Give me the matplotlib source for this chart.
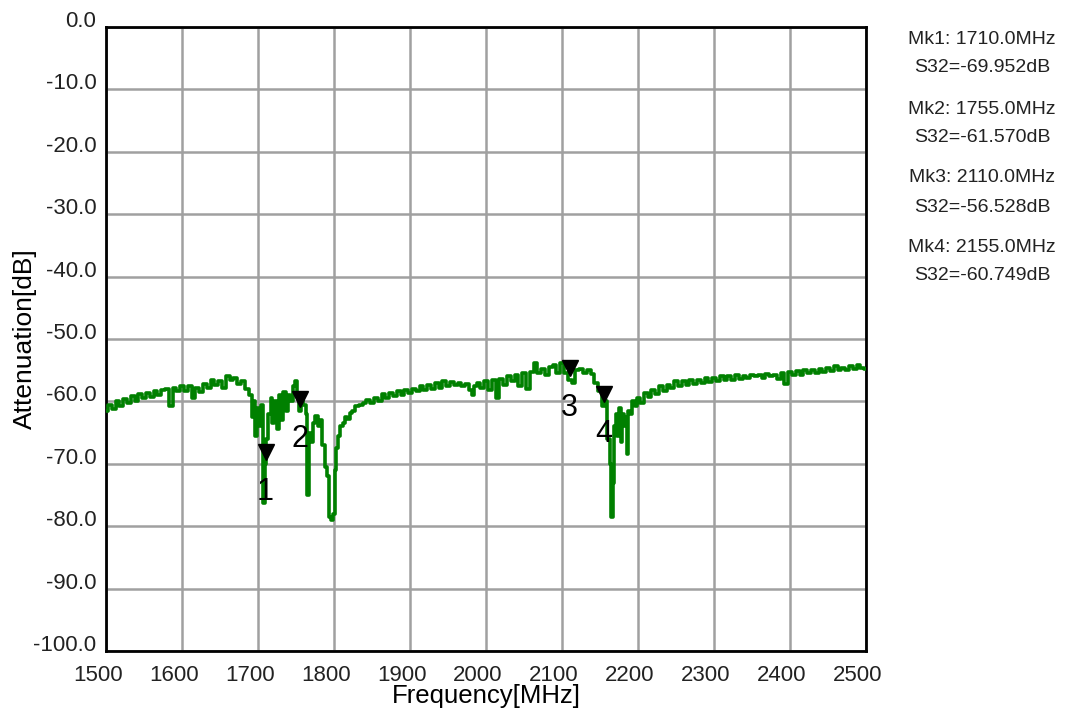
import matplotlib
matplotlib.use("Agg")
import matplotlib.pyplot as plt
import matplotlib.transforms as mtransforms

plt.rcParams['font.family'] = ['Liberation Sans', 'DejaVu Sans']

freq = [1500, 1505, 1510, 1515, 1520, 1525, 1530, 1535, 1540, 1545, 1550, 1555, 1560, 1565, 1570, 1575,
        1580, 1585, 1590, 1595, 1600, 1605, 1610, 1615, 1620, 1625, 1630, 1635, 1640, 1645, 1650, 1655,
        1660, 1665, 1670, 1675, 1680, 1685, 1690, 1693, 1695, 1697, 1700, 1703, 1706, 1708, 1710, 1712,
        1715, 1718, 1720, 1723, 1726, 1729, 1732, 1735, 1738, 1741, 1744, 1747, 1750, 1753, 1755, 1758,
        1761, 1764, 1766, 1768, 1771, 1774, 1777, 1780, 1783, 1786, 1789, 1792, 1795, 1798, 1800, 1802,
        1804, 1807, 1810, 1813, 1816, 1819, 1822, 1826, 1830, 1835, 1840, 1845, 1850, 1855, 1860, 1865,
        1870, 1875, 1880, 1885, 1890, 1895, 1900, 1905, 1910, 1915, 1920, 1925, 1930, 1935, 1940, 1945,
        1950, 1955, 1960, 1965, 1970, 1975, 1980, 1983, 1985, 1990, 1995, 2000, 2005, 2010, 2015, 2020,
        2025, 2030, 2035, 2040, 2045, 2050, 2055, 2060, 2065, 2070, 2075, 2080, 2085, 2090, 2095, 2100,
        2105, 2110, 2115, 2120, 2125, 2130, 2135, 2140, 2145, 2150, 2155, 2158, 2161, 2164, 2166, 2168,
        2170, 2172, 2174, 2176, 2178, 2180, 2182, 2184, 2186, 2188, 2191, 2194, 2197, 2200, 2205, 2210,
        2215, 2220, 2225, 2230, 2235, 2240, 2245, 2250, 2255, 2260, 2265, 2270, 2275, 2280, 2285, 2290,
        2295, 2300, 2305, 2310, 2315, 2320, 2325, 2330, 2335, 2340, 2345, 2350, 2355, 2360, 2365, 2370,
        2375, 2380, 2385, 2390, 2395, 2400, 2405, 2410, 2415, 2420, 2425, 2430, 2435, 2440, 2445, 2450,
        2455, 2460, 2465, 2470, 2475, 2480, 2485, 2490, 2495, 2500]

s32 = [-61.5, -60.5, -61.2, -60.0, -60.8, -59.6, -60.2, -59.2, -59.9, -58.8, -59.5, -58.6, -59.3, -58.4, -59.0, -58.2,
       -58.0, -60.8, -57.8, -58.4, -57.6, -58.3, -57.5, -59.5, -57.9, -58.5, -57.2, -57.9, -56.5, -57.4, -56.8, -57.9,
       -56.0, -56.6, -56.3, -57.2, -56.8, -58.0, -59.0, -62.5, -60.0, -65.5, -61.0, -64.0, -60.5, -76.3, -70.0, -66.0,
       -62.0, -59.5, -63.5, -60.0, -64.5, -59.0, -63.0, -58.5, -61.5, -59.0, -60.0, -57.5, -56.8, -59.0, -61.5, -59.5,
       -60.5, -62.0, -75.0, -65.0, -66.5, -63.5, -62.3, -64.0, -63.0, -67.0, -70.5, -72.0, -78.5, -79.0, -78.0, -71.0,
       -67.5, -65.5, -64.0, -63.5, -62.5, -62.8, -61.8, -61.5, -60.8, -60.5, -60.2, -59.8, -60.3, -59.4, -59.9, -58.8,
       -59.5, -58.6, -59.2, -58.4, -58.9, -58.2, -58.6, -58.0, -58.4, -57.6, -58.2, -57.3, -58.0, -57.1, -57.9, -56.8,
       -57.5, -56.9, -57.4, -57.0, -57.6, -57.2, -58.2, -59.0, -57.6, -57.0, -57.8, -56.8, -58.2, -56.6, -59.5, -56.4,
       -57.3, -56.0, -56.8, -55.8, -57.5, -55.5, -58.0, -55.3, -53.8, -55.5, -54.8, -55.7, -54.5, -54.2, -55.5, -53.8,
       -55.5, -56.5, -57.0, -55.0, -54.8, -55.5, -55.0, -55.6, -57.0, -58.3, -60.7, -60.0, -66.0, -70.0, -78.5, -73.0,
       -64.0, -62.0, -65.5, -61.0, -66.5, -62.0, -64.0, -62.5, -68.5, -61.5, -62.0, -60.0, -60.8, -59.5, -60.2, -58.6,
       -59.3, -58.2, -58.8, -57.5, -58.3, -57.3, -57.9, -56.8, -57.6, -56.7, -57.3, -56.5, -57.2, -56.6, -57.0, -56.2,
       -56.9, -56.3, -56.7, -56.0, -56.5, -56.0, -56.6, -55.8, -56.4, -55.9, -56.3, -55.7, -56.0, -55.8, -56.2, -55.6,
       -56.0, -55.7, -56.4, -55.5, -57.2, -55.3, -55.8, -55.2, -55.7, -55.0, -55.5, -55.0, -55.4, -54.8, -55.3, -54.7,
       -55.1, -54.3, -54.9, -54.6, -55.0, -54.4, -54.8, -54.2, -54.6, -54.8]

marker_names = ["1", "2", "3", "4"]
marker_freq = [1710.0, 1755.0, 2110.0, 2155.0]
marker_val = [-69.952, -61.570, -56.528, -60.749]

x_ticks = [1500, 1600, 1700, 1800, 1900, 2000, 2100, 2200, 2300, 2400, 2500]
y_ticks = [0, -10, -20, -30, -40, -50, -60, -70, -80, -90, -100]

fig = plt.figure(figsize=(10.65, 7.13), dpi=100)
ax = fig.add_axes([106 / 1065, 1 - 651 / 713, (866 - 106) / 1065, (651 - 27) / 713])

ax.plot(freq, s32, color='#008000', linewidth=2.6, drawstyle='steps-mid', zorder=3)

ax.set_xlim(1500, 2500)
ax.set_ylim(-100, 0)
ax.set_xticks(x_ticks)
ax.set_xticklabels([str(v) for v in x_ticks], fontsize=16)
ax.set_yticks(y_ticks)
ax.set_yticklabels([f"{v:.1f}" for v in y_ticks], fontsize=16)
ax.tick_params(axis='both', length=0, colors='#222222')
ax.tick_params(axis='y', pad=7)
ax.tick_params(axis='x', pad=10)
for lbl in ax.get_yticklabels():
    lbl.set_verticalalignment('baseline')
xoff = mtransforms.ScaledTranslation(-8 / 100, 0, fig.dpi_scale_trans)
for lbl in ax.get_xticklabels():
    lbl.set_transform(lbl.get_transform() + xoff)

ax.grid(True, color='#a0a0a0', linewidth=1.8, zorder=1)
for sp in ax.spines.values():
    sp.set_color('black')
    sp.set_linewidth(2.0)

ax.set_xlabel("Frequency[MHz]", fontsize=18.5, labelpad=-1.5)
ax.set_ylabel("Attenuation[dB]", fontsize=19, labelpad=-3)

tri_tr = mtransforms.offset_copy(ax.transData, fig=fig, x=0, y=12, units='dots')
lab_tr = mtransforms.offset_copy(ax.transData, fig=fig, x=0, y=-28, units='dots')
ax.plot(marker_freq, marker_val, linestyle='none', marker='v', markersize=11,
        color='black', transform=tri_tr, zorder=4, clip_on=False)
for name, f, v in zip(marker_names, marker_freq, marker_val):
    ax.text(f, v, name, transform=lab_tr, fontsize=22, ha='center', va='center',
            color='black', zorder=5)

line_y = [[40, 68], [109, 137], [178, 207], [248, 276]]
for (y1, y2), name, f, v in zip(line_y, marker_names, marker_freq, marker_val):
    fig.text(982 / 1065, 1 - y1 / 713, f"Mk{name}: {f:.1f}MHz", fontsize=14,
             ha='center', va='center', color='#222222')
    fig.text(982 / 1065, 1 - y2 / 713, f"S32={v:.3f}dB", fontsize=14,
             ha='center', va='center', color='#222222')

fig.savefig("out.png", dpi=100)
